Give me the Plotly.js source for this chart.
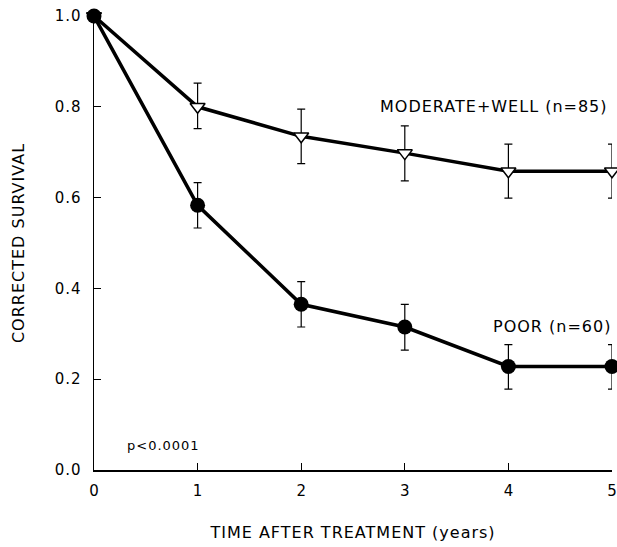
<!DOCTYPE html>
<html><head><meta charset="utf-8">
<script src="https://cdn.plot.ly/plotly-3.0.1.min.js"></script>
<style>body{margin:0;background:#fff}#c{width:617px;height:547px}text{letter-spacing:1px}.xtick text{letter-spacing:0}</style>
</head><body><div id="c"></div>
<script>
const years = [0, 1, 2, 3, 4, 5];
const modWell = [1.0, 0.80, 0.735, 0.698, 0.658, 0.658];
const modWellUpper = [0, 0.052, 0.06, 0.06, 0.06, 0.06];
const modWellLower = [0, 0.048, 0.06, 0.061, 0.059, 0.059];
const poor = [1.0, 0.583, 0.365, 0.315, 0.228, 0.228];
const poorUpper = [0, 0.05, 0.05, 0.05, 0.048, 0.048];
const poorLower = [0, 0.05, 0.05, 0.051, 0.05, 0.05];
const yTicks = [0, 0.2, 0.4, 0.6, 0.8, 1.0];
const yTickText = ['0.0', '0.2', '0.4', '0.6', '0.8', '1.0'];
const xTicks = [0, 1, 2, 3, 4, 5];

const font = 'DejaVu Sans, sans-serif';
const traces = [
  {x: years, y: modWell, type: 'scatter', mode: 'lines+markers', cliponaxis: false,
   line: {color: '#000', width: 3.5},
   marker: {symbol: 'triangle-down', size: 13, color: '#fff', line: {color: '#000', width: 1.5}},
   error_y: {type: 'data', symmetric: false, array: modWellUpper, arrayminus: modWellLower,
             color: '#000', thickness: 1.2, width: 4}},
  {x: years, y: poor, type: 'scatter', mode: 'lines+markers', cliponaxis: false,
   line: {color: '#000', width: 3.5},
   marker: {symbol: 'circle', size: 15, color: '#000'},
   error_y: {type: 'data', symmetric: false, array: poorUpper, arrayminus: poorLower,
             color: '#000', thickness: 1.2, width: 4}}
];
const layout = {
  width: 617, height: 547, showlegend: false,
  paper_bgcolor: '#fff', plot_bgcolor: '#fff',
  margin: {l: 94, r: 5, t: 16, b: 77},
  font: {family: font, color: '#000', size: 14},
  xaxis: {range: [0, 5], tickvals: xTicks, ticks: 'inside', ticklen: 7, tickcolor: '#000',
          showgrid: false, zeroline: false, showline: true, linecolor: '#000', linewidth: 1.5,
          ticklabelstandoff: 6,
          tickfont: {size: 15}, title: {text: 'TIME AFTER TREATMENT (years)', font: {size: 16}, standoff: 28}},
  yaxis: {range: [0, 1.0], tickvals: yTicks, ticktext: yTickText, ticks: 'inside', ticklen: 7, tickcolor: '#000',
          showgrid: false, zeroline: false, showline: true, linecolor: '#000', linewidth: 1.5,
          ticklabelstandoff: 8,
          tickfont: {size: 15}, title: {text: 'CORRECTED SURVIVAL', font: {size: 16}, standoff: 26}},
  annotations: [
    {x: 5, y: 0.80, xref: 'x', yref: 'y', text: 'MODERATE+WELL (n=85)', showarrow: false,
     xanchor: 'right', yanchor: 'middle', xshift: -2, font: {size: 16}},
    {x: 5, y: 0.315, xref: 'x', yref: 'y', text: 'POOR (n=60)', showarrow: false,
     xanchor: 'right', yanchor: 'middle', xshift: 1, font: {size: 16}},
    {x: 0.3, y: 0.053, xref: 'x', yref: 'y', text: 'p<0.0001', showarrow: false,
     xanchor: 'left', yanchor: 'middle', font: {size: 13}}
  ]
};
Plotly.newPlot('c', traces, layout, {displayModeBar: false, staticPlot: true});
</script></body></html>
